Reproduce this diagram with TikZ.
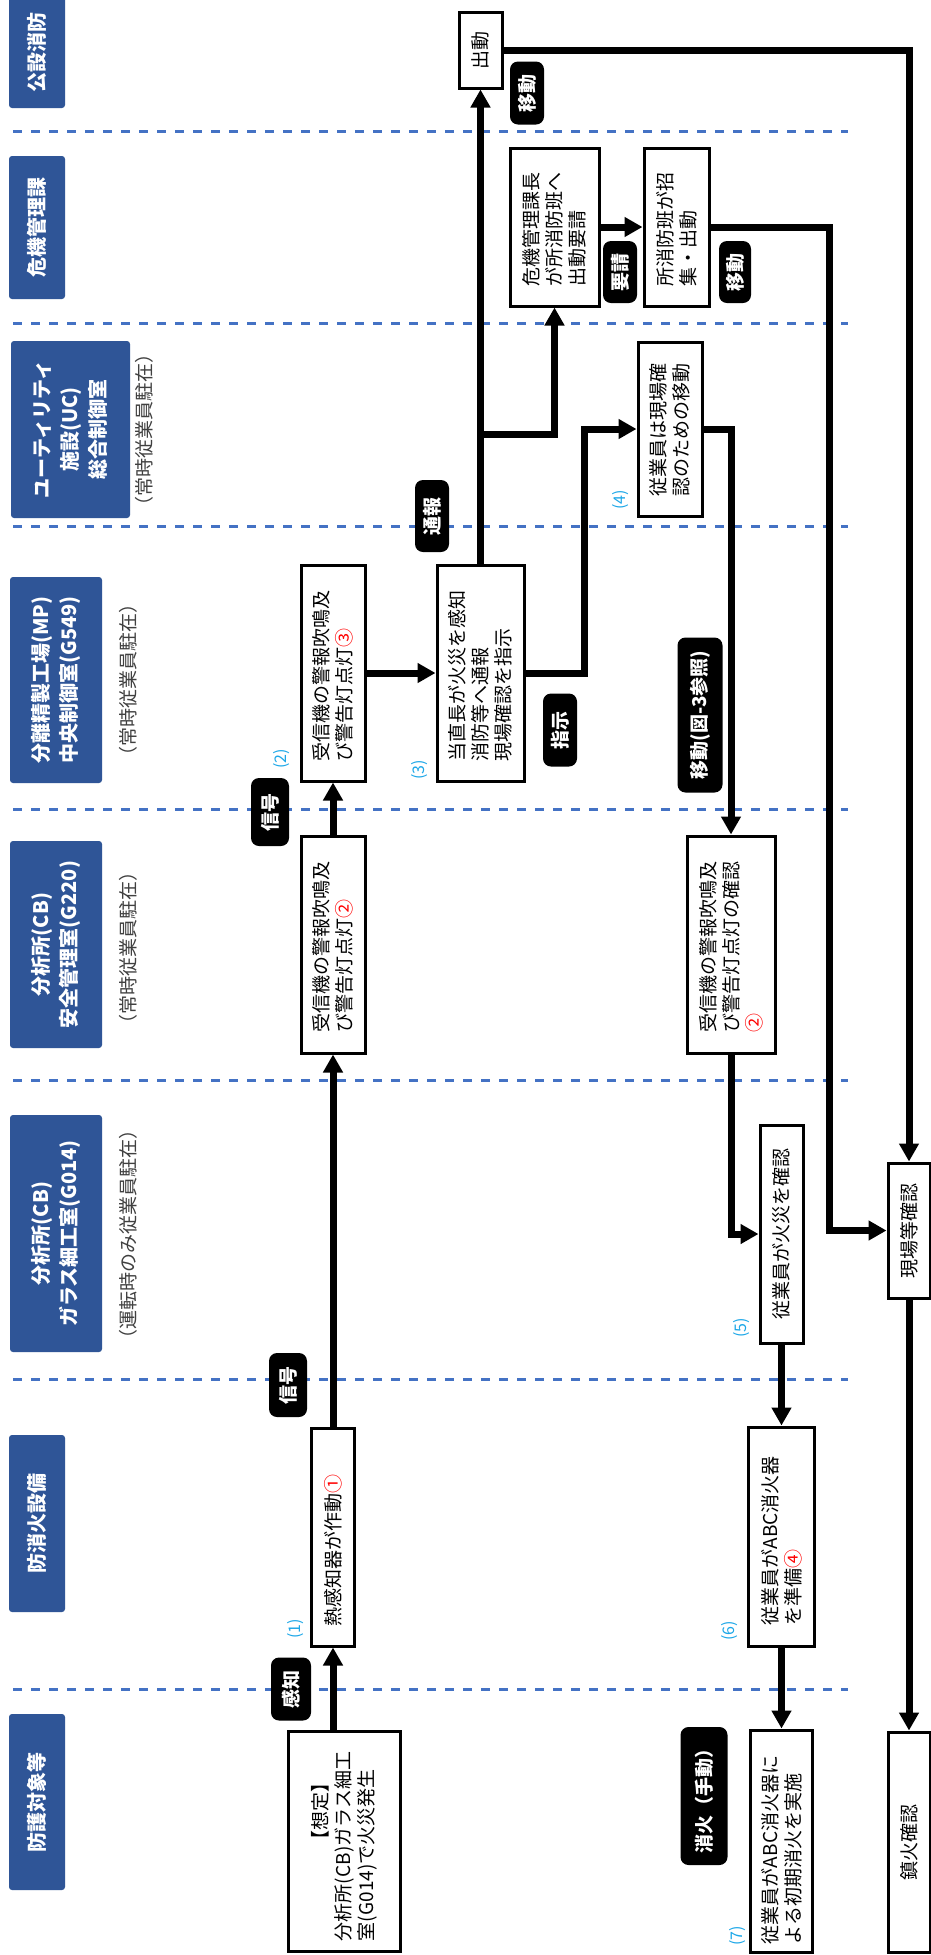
\documentclass[tikz,border=0pt]{standalone}
\usepackage{fontspec}
\usepackage{graphicx}
\setmainfont{Noto Sans CJK JP}
\usetikzlibrary{arrows.meta}
\definecolor{lanefill}{HTML}{2F5597}
\definecolor{dashblue}{HTML}{4472C4}
\definecolor{numblue}{HTML}{1CA7E8}
\definecolor{subgray}{HTML}{404040}
\newcommand{\rl}[2]{\rotatebox{90}{\parbox{#1}{\raggedright #2}}}
\newcommand{\rc}[2]{\rotatebox{90}{\parbox{#1}{\centering #2}}}
\newcommand{\rs}[1]{\rotatebox{90}{#1}}
\newcommand{\cn}[1]{{\color{red}#1}}
\hfuzz=50pt
\tikzset{
 sz/.style 2 args={minimum width=#1*0.5pt, minimum height=#2*0.5pt},
 box/.style={draw, line width=1.5pt, fill=white, inner sep=0pt, font=\fontsize{9.5pt}{11.5pt}\selectfont},
 lane/.style={fill=lanefill, rounded corners=1.5pt, inner sep=0pt, text=white, font=\fontsize{10pt}{14pt}\selectfont\bfseries},
 tag/.style={fill=black, rounded corners=4pt, inner sep=0pt, text=white, font=\fontsize{9.5pt}{11pt}\selectfont\bfseries},
 subtxt/.style={inner sep=0pt, text=subgray, font=\fontsize{9.5pt}{11pt}\selectfont},
 num/.style={inner sep=0pt, text=numblue, font=\fontsize{8pt}{9pt}\selectfont},
 arr/.style={line width=3.5pt, -{Triangle[length=9pt,width=9.5pt]}},
 lanesep/.style={dashblue, line width=1.5pt, dash pattern=on 4.5pt off 4.5pt},
}
\begin{document}
\begin{tikzpicture}[x=0.5pt, y=-0.5pt]
\fill[white] (0,0) rectangle (931,1955);
\useasboundingbox (0,0) rectangle (931,1955);
% lane separators
\foreach \yy in {131,323,526,809,1080,1379,1689}
  \draw[lanesep] (13,\yy) -- (848,\yy);
% lane labels
\node[lane, sz={56}{112}] (L1) at (37,52) {\rs{公設消防}};
\node[lane, sz={56}{143}] (L2) at (37,227.5) {\rs{危機管理課}};
\node[lane, sz={119}{177}] (L3) at (70.5,429.5) {\rc{80pt}{ユーティリティ\\施設(UC)\\総合制御室}};
\node[lane, sz={92}{206}] (L4) at (56,680) {\rc{100pt}{分離精製工場(MP)\\中央制御室(G549)}};
\node[lane, sz={92}{207}] (L5) at (56,944.5) {\rc{100pt}{分析所(CB)\\安全管理室(G220)}};
\node[lane, sz={92}{237}] (L6) at (56,1233.5) {\rc{115pt}{分析所(CB)\\ガラス細工室(G014)}};
\node[lane, sz={56}{177}] (L7) at (37,1523.5) {\rs{防消火設備}};
\node[lane, sz={56}{176}] (L8) at (37,1802) {\rs{防護対象等}};
% sub texts
\node[subtxt] (S3) at (144,430) {\rs{（常時従業員駐在）}};
\node[subtxt] (S4) at (128,680) {\rs{（常時従業員駐在）}};
\node[subtxt] (S5) at (128,948) {\rs{（常時従業員駐在）}};
\node[subtxt] (S6) at (128,1234) {\rs{（運転時のみ従業員駐在）}};
% boxes
\node[box, sz={112}{220}] (B1) at (344,1841) {\rl{100pt}{\hspace*{46pt}【想定】\\分析所(CB)ガラス細工\\室(G014)で火災発生}};
\node[box, sz={43}{218}] (B2) at (333,1537) {\rl{89pt}{熱感知器が作動\cn{①}}};
\node[box, sz={64}{217}] (B3) at (333,944.5) {\rl{88pt}{受信機の警報吹鳴及\\び警告灯点灯\cn{②}}};
\node[box, sz={64}{216}] (B4) at (333,673) {\rl{88pt}{受信機の警報吹鳴及\\び警告灯点灯\cn{③}}};
\node[box, sz={87}{216}] (B5) at (480.5,673) {\rl{88pt}{当直長が火災を感知\\消防等へ通報\\現場確認を指示}};
\node[box, sz={64}{174}] (B6) at (670,429) {\rl{67pt}{従業員は現場確\\認のための移動}};
\node[box, sz={88}{217}] (B7) at (731,944.5) {\rl{88pt}{受信機の警報吹鳴及\\び警告灯点灯の確認\\\cn{②}}};
\node[box, sz={89}{158}] (B8) at (554.5,227) {\rl{59pt}{危機管理課長\\が所消防班へ\\出動要請}};
\node[box, sz={43}{218}] (B9) at (781.5,1234) {\rs{従業員が火災を確認}};
\node[box, sz={66}{219}] (B10) at (781.5,1536.5) {\rl{89pt}{従業員がABC消火器\\を準備\cn{④}}};
\node[box, sz={62}{222}] (B11) at (781.5,1841) {\rl{103pt}{従業員がABC消火器に\\よる初期消火を実施}};
\node[box, sz={42}{135}] (B12) at (909,1230.5) {\rs{現場等確認}};
\node[box, sz={42}{220}] (B13) at (909,1842) {\rs{鎮火確認}};
\node[box, sz={43}{76}] (B14) at (480.5,50) {\rs{出動}};
\node[box, sz={65}{158}] (B15) at (676.5,227) {\rl{59pt}{所消防班が招\\集・出動}};
% tags
\node[tag, sz={40}{63}] (T1) at (291,1689) {\rs{感知}};
\node[tag, sz={38}{64}] (T2) at (288,1385) {\rs{信号}};
\node[tag, sz={38}{68}] (T3) at (270,812) {\rs{信号}};
\node[tag, sz={34}{73}] (T4) at (560,730) {\rs{指示}};
\node[tag, sz={34}{72}] (T5) at (432,516) {\rs{通報}};
\node[tag, sz={45}{155}] (T6) at (700,715) {\rs{移動(図-3参照)}};
\node[tag, sz={34}{63}] (T7) at (527,93) {\rs{移動}};
\node[tag, sz={34}{62}] (T8) at (620,272) {\rs{要請}};
\node[tag, sz={32}{62}] (T9) at (735,272) {\rs{移動}};
\node[tag, sz={47}{138}] (T10) at (704,1796) {\rs{消火（手動）}};
% step numbers
\node[num] (N1) at (296,1629) {\rs{(1)}};
\node[num] (N2) at (282,759) {\rs{(2)}};
\node[num] (N3) at (420,770) {\rs{(3)}};
\node[num] (N4) at (621,500) {\rs{(4)}};
\node[num] (N5) at (742,1328) {\rs{(5)}};
\node[num] (N6) at (730,1631) {\rs{(6)}};
\node[num] (N7) at (738,1936) {\rs{(7)}};
% connectors
\draw[arr] (B2.south |- B1.north) -- (B2.south);
\draw[arr] (B2.north) -- (B3.south);
\draw[arr] (B3.north) -- (B4.south);
\draw[arr] (B4.east) -- (B5.west);
\draw[arr] (B5.north) -- (B14.south);
\coordinate (J1) at (480.5,434);
\draw[arr] (J1) -| (B8.south);
\draw[arr] (B5.east) -- ++(59,0) |- (B6.west);
\draw[arr] (B8.east) -- (B15.west);
\draw[arr] (B14.east) -| (B12.north);
\draw[arr] (B15.east) -- ++(119,0) |- (B12.west);
\draw[arr] (B6.east) -| (B7.north);
\draw[arr] (B7.south) |- (B9.west);
\draw[arr] (B9.south) -- (B10.north);
\draw[arr] (B10.south) -- (B11.north);
\draw[arr] (B12.south) -- (B13.north);
\end{tikzpicture}
\end{document}
